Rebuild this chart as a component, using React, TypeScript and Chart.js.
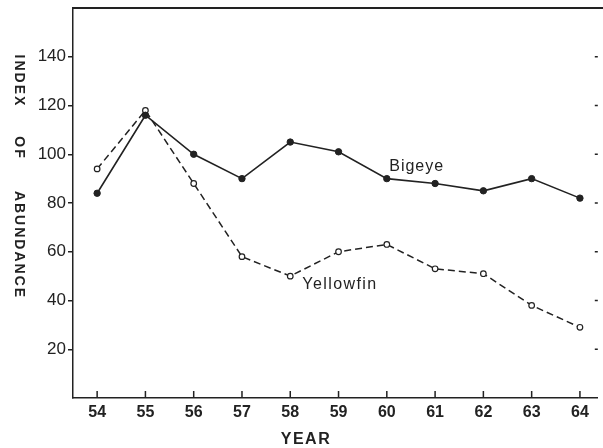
import React, { useEffect, useRef } from 'react';
import { Chart, registerables } from 'chart.js';

Chart.register(...registerables);

// ---- data ----
const years = [54, 55, 56, 57, 58, 59, 60, 61, 62, 63, 64];
const bigeye = [84, 116, 100, 90, 105, 101, 90, 88, 85, 90, 82];
const yellowfin = [94, 118, 88, 58, 50, 60, 63, 53, 51, 38, 29];
const yTickValues = [20, 40, 60, 80, 100, 120, 140];
const yTitleWords = ['INDEX', 'OF', 'ABUNDANCE'];
const xTitle = 'YEAR';
const seriesNames = ['Bigeye', 'Yellowfin'];

const INK = '#222222';
const FONT = "'Liberation Sans', Arial, sans-serif";

const decorPlugin = {
  id: 'decor',
  afterDraw(chart: any) {
    const { ctx, chartArea: ca, scales } = chart;
    const x = scales.x;
    const y = scales.y;
    ctx.save();
    ctx.strokeStyle = INK;

    // top frame line
    ctx.lineWidth = 2;
    ctx.beginPath();
    ctx.moveTo(ca.left - 0.75, ca.top);
    ctx.lineTo(chart.width, ca.top);
    ctx.stroke();

    // x tick marks pointing inward
    ctx.lineWidth = 1.5;
    ctx.beginPath();
    years.forEach((v) => {
      const px = x.getPixelForValue(v);
      ctx.moveTo(px, ca.bottom);
      ctx.lineTo(px, ca.bottom - 7);
    });
    // right side tick stubs
    yTickValues.forEach((v) => {
      const py = y.getPixelForValue(v);
      ctx.moveTo(ca.right - 3, py);
      ctx.lineTo(ca.right, py);
    });
    ctx.stroke();

    ctx.fillStyle = INK;

    // y axis title, rotated to read top-to-bottom
    const wordCenters = [80, 147, 244];
    ctx.font = `bold 14px ${FONT}`;
    (ctx as any).letterSpacing = '2px';
    ctx.textAlign = 'center';
    ctx.textBaseline = 'middle';
    yTitleWords.forEach((w, i) => {
      ctx.save();
      ctx.translate(19, wordCenters[i]);
      ctx.rotate(Math.PI / 2);
      ctx.fillText(w, 1, 0);
      ctx.restore();
    });

    // x axis title
    ctx.font = `bold 16px ${FONT}`;
    (ctx as any).letterSpacing = '1.5px';
    ctx.fillText(xTitle, 306, 440);

    // series labels
    ctx.font = `16px ${FONT}`;
    ctx.textAlign = 'left';
    (ctx as any).letterSpacing = '1px';
    ctx.fillText(seriesNames[0], x.getPixelForValue(60.05), y.getPixelForValue(95));
    (ctx as any).letterSpacing = '1.4px';
    ctx.fillText(seriesNames[1], x.getPixelForValue(58.25), y.getPixelForValue(46.5));

    ctx.restore();
  },
};

export default function App() {
  const canvasRef = useRef<HTMLCanvasElement | null>(null);

  useEffect(() => {
    if (!canvasRef.current) return;
    const chart = new Chart(canvasRef.current, {
      type: 'line',
      data: {
        datasets: [
          {
            label: seriesNames[0],
            data: years.map((yr, i) => ({ x: yr, y: bigeye[i] })),
            borderColor: INK,
            borderWidth: 1.6,
            pointRadius: 3.2,
            pointBackgroundColor: INK,
            pointBorderColor: INK,
            pointBorderWidth: 1,
            tension: 0,
            fill: false,
          },
          {
            label: seriesNames[1],
            data: years.map((yr, i) => ({ x: yr, y: yellowfin[i] })),
            borderColor: INK,
            borderWidth: 1.5,
            borderDash: [7, 4],
            pointRadius: 2.8,
            pointBackgroundColor: '#ffffff',
            pointBorderColor: INK,
            pointBorderWidth: 1.2,
            tension: 0,
            fill: false,
          },
        ],
      },
      options: {
        responsive: false,
        animation: false,
        devicePixelRatio: 1,
        layout: { padding: { top: 8, left: 0, right: 0, bottom: 0 } },
        plugins: {
          legend: { display: false },
          tooltip: { enabled: false },
          title: { display: false },
        },
        scales: {
          x: {
            type: 'linear',
            min: 53.5,
            max: 64.37,
            ticks: {
              stepSize: 1,
              includeBounds: false,
              autoSkip: false,
              maxRotation: 0,
              padding: 5,
              color: INK,
              font: { family: FONT, size: 16, weight: 'bold' },
              callback: (v: any) => (Number.isInteger(v) ? String(v) : ''),
            },
            grid: { display: false, drawTicks: false },
            border: { display: true, color: INK, width: 1.5 },
            afterFit: (s: any) => {
              s.height = 50;
              s.paddingLeft = 0;
              s.paddingRight = 0;
            },
          },
          y: {
            type: 'linear',
            min: 0,
            max: 160,
            ticks: {
              stepSize: 20,
              padding: 2,
              color: INK,
              font: { family: FONT, size: 17 },
              callback: (v: any) => (v === 0 || v === 160 ? '' : String(v)),
            },
            grid: {
              drawOnChartArea: false,
              drawTicks: true,
              tickLength: 5,
              lineWidth: 1.5,
              color: (c: any) =>
                c.tick && (c.tick.value === 0 || c.tick.value === 160) ? 'rgba(0,0,0,0)' : INK,
            },
            border: { display: true, color: INK, width: 1.5 },
            afterFit: (s: any) => {
              s.width = 73;
              s.paddingTop = 0;
              s.paddingBottom = 0;
            },
          },
        },
      },
      plugins: [decorPlugin],
    } as any);
    return () => chart.destroy();
  }, []);

  return (
    <div style={{ position: 'fixed', left: 0, top: 0, width: 603, height: 448, background: '#fff' }}>
      <canvas ref={canvasRef} width={603} height={448} style={{ display: 'block' }} />
    </div>
  );
}
